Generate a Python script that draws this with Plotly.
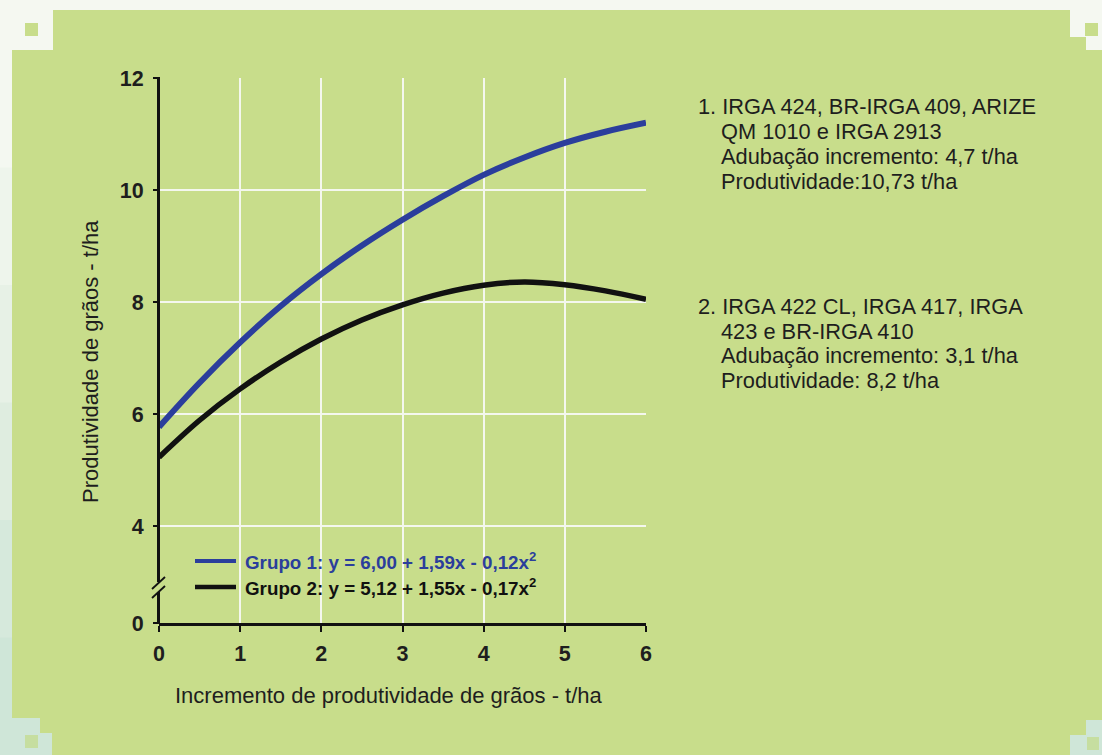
import plotly.graph_objects as go

# ---- data ----
incremento = [0, 0.5, 1, 1.5, 2, 2.5, 3, 3.5, 4, 4.5, 5, 5.5, 6]
grupo1 = [5.77, 6.56, 7.28, 7.93, 8.50, 9.01, 9.47, 9.89, 10.27, 10.58, 10.84, 11.04, 11.20]
grupo2 = [5.23, 5.89, 6.45, 6.93, 7.34, 7.68, 7.95, 8.16, 8.30, 8.36, 8.31, 8.20, 8.05]

y_tickvals = [2.27, 4, 6, 8, 10, 12]
y_ticktext = ["0", "4", "6", "8", "10", "12"]
x_tickvals = [0, 1, 2, 3, 4, 5, 6]

legend_labels = ["Grupo 1: y = 6,00 + 1,59x - 0,12x<sup>2</sup>",
                 "Grupo 2: y = 5,12 + 1,55x - 0,17x<sup>2</sup>"]
bloco1 = ["1. IRGA 424, BR-IRGA 409, ARIZE", "QM 1010 e IRGA 2913",
          "Adubação incremento: 4,7 t/ha", "Produtividade:10,73 t/ha"]
bloco2 = ["2. IRGA 422 CL, IRGA 417, IRGA", "423 e BR-IRGA 410",
          "Adubação incremento: 3,1 t/ha", "Produtividade: 8,2 t/ha"]

# ---- layout geometry (pixels) ----
W, H = 1102, 755
L, R, T, B = 159, 1102 - 646, 78, 755 - 623
PW, PH = W - L - R, H - T - B

def px(x):
    return (x - L) / PW

def py(y):
    return (H - B - y) / PH

GREEN = "#c8dd8b"
BLUE = "#2b3e9c"
BLACK = "#111111"
TXT = "#1e1e1e"
FONT = "Liberation Sans, Arial, sans-serif"

fig = go.Figure()
fig.add_trace(go.Scatter(x=incremento, y=grupo1, mode="lines",
                         line=dict(color=BLUE, width=6, shape="spline", smoothing=1.0),
                         showlegend=False, name="Grupo 1"))
fig.add_trace(go.Scatter(x=incremento, y=grupo2, mode="lines",
                         line=dict(color=BLACK, width=5.5, shape="spline", smoothing=1.0),
                         showlegend=False, name="Grupo 2"))

shapes = []

def rect(x0, y0, x1, y1, color, layer="below"):
    shapes.append(dict(type="rect", xref="paper", yref="paper",
                       x0=px(x0), x1=px(x1), y0=py(y1), y1=py(y0),
                       fillcolor=color, line=dict(width=0), layer=layer))

# decorative light border
rect(0, 0, W, 10, "#f5f8f1")
rect(0, 0, 53, 50, "#f5f8f1")
rect(25, 23, 38, 36, GREEN)
rect(1070, 0, W, 37, "#f5f8f1")
rect(1086, 37, W, 50, "#f5f8f1")
rect(1085, 23, 1098, 36, GREEN)
left_cols = ["#f4f8f1", "#eef5ec", "#e7f1e6", "#dfede0", "#d6e9dc", "#cfe6d8"]
seg = (H - 50) / len(left_cols)
for i, c in enumerate(left_cols):
    rect(0, 50 + i * seg, 12, 50 + (i + 1) * seg + 1, c)
rect(0, 718, 40, H, "#cfe6d8")
rect(40, 733, 52, H, "#cfe6d8")
rect(25, 735, 38, 748, "#c6dea0")
rect(1070, 735, W, H, "#cfe6d8")
rect(1086, 720, W, 735, "#cfe6d8")
rect(1087, 737, 1099, 750, "#c6dea0")

def seg_line(x0, y0, x1, y1, color=BLACK, width=3):
    shapes.append(dict(type="line", xref="paper", yref="paper",
                       x0=px(x0), x1=px(x1), y0=py(y0), y1=py(y1),
                       line=dict(color=color, width=width), layer="above"))

# y-axis line with break marks
seg_line(158.5, 77, 158.5, 582)
seg_line(158.5, 592, 158.5, 624)
seg_line(152, 589, 165, 577, width=1.8)
seg_line(152, 598, 165, 586, width=1.8)

# manual legend samples
seg_line(195, 561, 236, 561, color=BLUE, width=4)
seg_line(195, 587, 236, 587, color=BLACK, width=4.5)

annotations = []
for lab, yy, col in ((legend_labels[0], 561, BLUE), (legend_labels[1], 587, BLACK)):
    annotations.append(dict(xref="paper", yref="paper", x=px(243), y=py(yy),
                            xanchor="left", yanchor="middle", showarrow=False,
                            text="<b>" + lab + "</b>",
                            font=dict(family=FONT, size=18.8, color=col)))

# right-hand text blocks
ys1 = [106.7, 131.7, 156.5, 181.7]
ys2 = [306.7, 331.7, 355.5, 380.5]
for block, ys in ((bloco1, ys1), (bloco2, ys2)):
    for i, (t, yy) in enumerate(zip(block, ys)):
        annotations.append(dict(xref="paper", yref="paper",
                                x=px(696 if i == 0 else 719), y=py(yy),
                                xanchor="left", yanchor="middle", showarrow=False,
                                text=t, font=dict(family=FONT, size=21.8, color=TXT)))

# axis titles
annotations.append(dict(xref="paper", yref="paper", x=px(389), y=py(695),
                        xanchor="center", yanchor="middle", showarrow=False,
                        text="Incremento de produtividade de grãos - t/ha",
                        font=dict(family=FONT, size=22, color=TXT)))
annotations.append(dict(xref="paper", yref="paper", x=px(90), y=py(362),
                        xanchor="center", yanchor="middle", showarrow=False,
                        textangle=-90,
                        text="Produtividade de grãos - t/ha",
                        font=dict(family=FONT, size=22, color=TXT)))

fig.update_layout(
    width=W, height=H,
    margin=dict(l=L, r=R, t=T, b=B, pad=0),
    paper_bgcolor=GREEN, plot_bgcolor=GREEN,
    shapes=shapes, annotations=annotations,
    font=dict(family=FONT, color=TXT),
    showlegend=False,
)
fig.update_xaxes(range=[0, 6], tickvals=x_tickvals, ticks="outside", ticklen=6,
                 tickwidth=2, tickcolor=BLACK, showline=True, linecolor=BLACK,
                 linewidth=3, showgrid=True, gridcolor="#f4f7ee", gridwidth=1.6,
                 zeroline=False, tickfont=dict(family=FONT, size=21.5, color=TXT,
                                               weight="bold"),
                 ticklabelstandoff=3, automargin=False, fixedrange=True)
fig.update_yaxes(range=[2.27, 12], tickvals=y_tickvals, ticktext=y_ticktext,
                 ticks="outside", ticklen=5, tickwidth=2, tickcolor=BLACK,
                 showline=False, showgrid=True, gridcolor="#f4f7ee", gridwidth=1.6,
                 zeroline=False, tickfont=dict(family=FONT, size=21.5, color=TXT,
                                               weight="bold"),
                 ticklabelstandoff=5, automargin=False, fixedrange=True)

fig.write_html(
    "out.html",
    config={"displayModeBar": False},
    post_script="document.body.style.margin='0';"
                "document.body.style.overflow='hidden';"
                "document.documentElement.style.overflow='hidden';",
)
